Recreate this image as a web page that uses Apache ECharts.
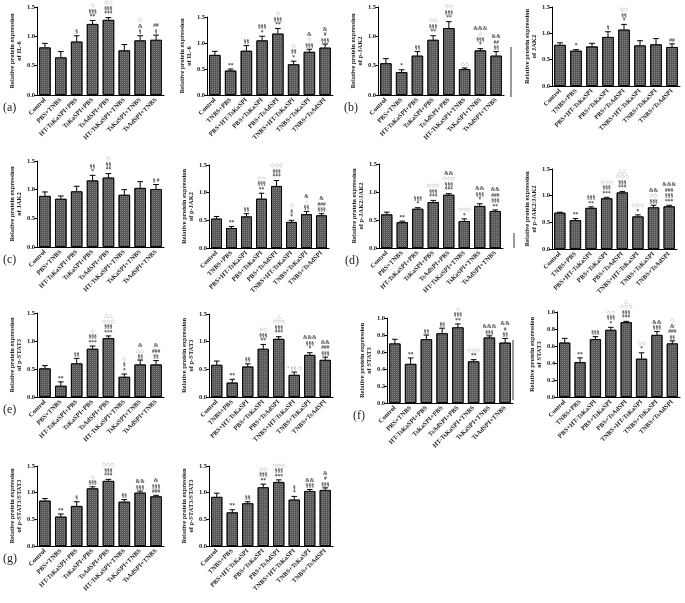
<!DOCTYPE html>
<html>
<head>
<meta charset="utf-8">
<script src="https://cdn.jsdelivr.net/npm/echarts@6/dist/echarts.min.js"></script>
<style>
html, body { margin: 0; padding: 0; background: #fff; }
#chart { width: 685px; height: 603px; }
</style>
</head>
<body>
<div id="chart"></div>
<script>
// group names (left panels / right panels)
const groupsL = ['Control', 'PBS+TNBS', 'HT-TsKaSPI+PBS', 'TsKaSPI+PBS', 'TsAdSPI+PBS', 'HT-TsKaSPI+TNBS', 'TsKaSPI+TNBS', 'TsAdSPI+TNBS'];
const groupsR = ['Control', 'TNBS+PBS', 'PBS+HT-TsKaSPI', 'PBS+TsKaSPI', 'PBS+TsAdSPI', 'TNBS+HT-TsKaSPI', 'TNBS+TsKaSPI', 'TNBS+TsAdSPI'];

const ticks15 = [0, 0.5, 1.0, 1.5];
const ticks10 = [0, 0.2, 0.4, 0.6, 0.8, 1.0];

// (a) IL-6
const il6A = [0.81, 0.64, 0.91, 1.21, 1.28, 0.76, 0.93, 0.94];
const il6AErr = [0.07, 0.10, 0.10, 0.06, 0.04, 0.10, 0.08, 0.08];
const il6AMarks = ['', '', '§', '◇\n§§§\n**', '◇◇\n§§§\n***', '', '◇\n&\n§', '##\n§'];
const il6B = [0.77, 0.47, 0.85, 1.05, 1.18, 0.59, 0.83, 0.91];
const il6BErr = [0.07, 0.03, 0.10, 0.08, 0.10, 0.06, 0.05, 0.07];
const il6BMarks = ['', '**', '§§', '§§§\n*', '◇\n§§§\n**', '◇\n§§\n*', '&\n◇\n§§§', '&\n#\n§§§'];

// (b) p-JAK2, JAK2
const pjak2A = [0.54, 0.39, 0.67, 0.94, 1.14, 0.44, 0.76, 0.67];
const pjak2AErr = [0.08, 0.04, 0.07, 0.07, 0.11, 0.02, 0.03, 0.07];
const pjak2AMarks = ['', '*', '§§', '◇◇\n§§§\n**', '◇◇\n§§§\n**', '◇◇', '&&&\n△\n§§§\n*', '&&\n##\n§§'];
const jak2B = [0.78, 0.67, 0.75, 0.93, 1.07, 0.77, 0.79, 0.74];
const jak2BErr = [0.04, 0.02, 0.06, 0.10, 0.10, 0.09, 0.11, 0.06];
const jak2BMarks = ['', '*', '', '§', '◇◇\n§§\n*', '', '', '##'];

// (c) JAK2, p-JAK2
const jak2C = [0.89, 0.84, 0.97, 1.16, 1.21, 0.91, 1.03, 1.01];
const jak2CErr = [0.07, 0.05, 0.09, 0.09, 0.07, 0.09, 0.11, 0.08];
const jak2CMarks = ['', '', '', '§§\n*', '◇\n§§\n**', '', '', '§ #'];
const pjak2C = [0.53, 0.36, 0.57, 0.89, 1.12, 0.47, 0.61, 0.59];
const pjak2CErr = [0.04, 0.03, 0.05, 0.10, 0.10, 0.03, 0.05, 0.03];
const pjak2CMarks = ['', '**', '§§', '◇◇\n§§§\n**', '◇◇◇\n§§§\n***', '◇\n§\n*', '&\n△\n§§', '&\n###\n§§§'];

// (d) p-JAK2/JAK2
const ratioJakA = [0.60, 0.46, 0.70, 0.82, 0.95, 0.48, 0.75, 0.66];
const ratioJakAErr = [0.04, 0.02, 0.02, 0.03, 0.02, 0.04, 0.04, 0.02];
const ratioJakAMarks = ['', '**', '§§§\n*', '◇◇◇\n§§§\n***', '&&\n◇◇◇\n§§§\n***', '◇◇◇\n*', '&&\n§§§\n*', '&&\n###\n§§§\n**'];
const ratioJakB = [0.68, 0.54, 0.77, 0.95, 1.06, 0.61, 0.78, 0.80];
const ratioJakBErr = [0.01, 0.03, 0.02, 0.02, 0.02, 0.03, 0.04, 0.02];
const ratioJakBMarks = ['', '**', '§§§\n**', '◇◇◇\n§§§\n***', '△△\n◇◇◇\n§§§\n***', '◇◇◇\n*', '&&\n◇◇\n§§§', '&&&\n###\n§§§\n***'];

// (e) p-STAT3
const pstatA = [0.51, 0.20, 0.60, 0.86, 1.05, 0.36, 0.58, 0.58];
const pstatAErr = [0.05, 0.07, 0.09, 0.05, 0.04, 0.05, 0.08, 0.07];
const pstatAMarks = ['', '**', '§§', '◇\n§§§\n***', '△△\n◇◇◇\n§§§\n***', '◇\n§\n*', '&\n△△\n§§', '&\n###\n§§'];
const pstatB = [0.58, 0.26, 0.55, 0.87, 1.05, 0.40, 0.76, 0.67];
const pstatBErr = [0.07, 0.06, 0.05, 0.08, 0.04, 0.05, 0.04, 0.05];
const pstatBMarks = ['', '**', '§§', '◇◇\n§§§\n**', '△\n◇◇◇\n§§§\n***', '* §§ ◇', '&&&\n§§§\n*', '&&\n###\n§§§'];

// (f) STAT3
const statA = [0.70, 0.46, 0.75, 0.82, 0.89, 0.49, 0.77, 0.71];
const statAErr = [0.05, 0.07, 0.05, 0.06, 0.04, 0.02, 0.02, 0.05];
const statAMarks = ['', '**', '§§', '§§', '◇\n§§§\n**', '◇◇◇\n**', '&&&\n§§§', '&&\n#\n§§'];
const statB = [0.64, 0.41, 0.68, 0.79, 0.88, 0.45, 0.73, 0.63];
const statBErr = [0.05, 0.05, 0.03, 0.03, 0.01, 0.07, 0.04, 0.03];
const statBMarks = ['', '**', '§§§', '◇◇\n§§§\n*', '△\n◇◇◇\n§§§\n***', '◇◇\n*', '&&\n§§§', '◇\n&\n###\n§§'];

// (g) p-STAT3/STAT3
const ratioStatA = [0.85, 0.55, 0.75, 1.08, 1.22, 0.83, 1.00, 0.93];
const ratioStatAErr = [0.04, 0.05, 0.08, 0.03, 0.03, 0.04, 0.03, 0.02];
const ratioStatAMarks = ['', '**', '§', '◇\n§§§', '◇◇◇\n§§§\n***', '§§', '&&\n§§§', '&\n§§§\n###'];
const ratioStatB = [0.92, 0.63, 0.80, 1.10, 1.20, 0.87, 1.03, 1.05];
const ratioStatBErr = [0.07, 0.05, 0.03, 0.06, 0.04, 0.06, 0.03, 0.04];
const ratioStatBMarks = ['', '**', '§§', '◇◇\n§§§\n**', '◇◇◇\n§§§\n***', '§\n*', '&&\n§§§', '&\n#\n§§§'];

// panel layout: grid [left, top, width, height]
const panels = [
  { tag: '(a)', cats: groupsL, vals: il6A, errs: il6AErr, marks: il6AMarks, name: 'IL-6', ticks: ticks15, grid: [37, 7, 127, 88] },
  { cats: groupsR, vals: il6B, errs: il6BErr, marks: il6BMarks, name: 'IL-6', ticks: ticks15, grid: [207, 17, 126, 78] },
  { tag: '(b)', cats: groupsL, vals: pjak2A, errs: pjak2AErr, marks: pjak2AMarks, name: 'p-JAK2', ticks: ticks15, grid: [378, 7, 126, 88] },
  { cats: groupsR, vals: jak2B, errs: jak2BErr, marks: jak2BMarks, name: 'JAK2', ticks: ticks15, grid: [552, 7, 128, 79] },
  { tag: '(c)', cats: groupsL, vals: jak2C, errs: jak2CErr, marks: jak2CMarks, name: 'JAK2', ticks: ticks15, grid: [37, 161, 127, 86] },
  { cats: groupsR, vals: pjak2C, errs: pjak2CErr, marks: pjak2CMarks, name: 'p-JAK2', ticks: ticks15, grid: [209, 165, 120, 83] },
  { tag: '(d)', cats: groupsL, vals: ratioJakA, errs: ratioJakAErr, marks: ratioJakAMarks, name: 'p-JAK2/JAK2', ticks: ticks15, grid: [379, 164, 124, 84] },
  { cats: groupsR, vals: ratioJakB, errs: ratioJakBErr, marks: ratioJakBMarks, name: 'p-JAK2/JAK2', ticks: ticks15, grid: [552, 169, 125, 80] },
  { tag: '(e)', cats: groupsL, vals: pstatA, errs: pstatAErr, marks: pstatAMarks, name: 'p-STAT3', ticks: ticks15, grid: [37, 313, 127, 84] },
  { cats: groupsR, vals: pstatB, errs: pstatBErr, marks: pstatBMarks, name: 'p-STAT3', ticks: ticks15, grid: [209, 314, 124, 83] },
  { tag: '(f)', cats: groupsL, vals: statA, errs: statAErr, marks: statAMarks, name: 'STAT3', ticks: ticks10, grid: [387, 318, 126, 85] },
  { cats: groupsR, vals: statB, errs: statBErr, marks: statBMarks, name: 'STAT3', ticks: ticks10, grid: [557, 312, 123, 85] },
  { tag: '(g)', cats: groupsL, vals: ratioStatA, errs: ratioStatAErr, marks: ratioStatAMarks, name: 'p-STAT3/STAT3', ticks: ticks15, grid: [37, 466, 127, 80] },
  { cats: groupsR, vals: ratioStatB, errs: ratioStatBErr, marks: ratioStatBMarks, name: 'p-STAT3/STAT3', ticks: ticks15, grid: [209, 466, 124, 80] }
];

const FONT = '"Liberation Serif", "DejaVu Serif", serif';
const ink = '#222';

// turn "◇\n§§§" into rich text, the open symbols in light grey
function richMarks(s) {
  if (!s) return '';
  return s.split('\n').map(l => /[◇△]/.test(l) ? '{l|' + l + '}' : '{d|' + l + '}').join('\n');
}

function errRender(params, api) {
  const i = api.value(0), v = api.value(1), e = api.value(2);
  const p0 = api.coord([i, v]);
  const p1 = api.coord([i, v + e]);
  const cap = api.size([1, 0])[0] * 0.36;
  const mark = panels[params.seriesIndex / 2 | 0].marks[i];
  const children = [
    { type: 'line', shape: { x1: p0[0], y1: p0[1], x2: p1[0], y2: p1[1] }, style: { stroke: '#000', lineWidth: 1 } },
    { type: 'line', shape: { x1: p1[0] - cap / 2, y1: p1[1], x2: p1[0] + cap / 2, y2: p1[1] }, style: { stroke: '#000', lineWidth: 1 } }
  ];
  if (mark) {
    children.push({
      type: 'text',
      x: p1[0], y: p1[1] - 1,
      style: {
        text: richMarks(mark),
        align: 'center', verticalAlign: 'bottom',
        fontFamily: FONT, fontSize: 5.5, lineHeight: 5.5,
        rich: {
          d: { fill: '#444', fontSize: 5.5, lineHeight: 5.5, fontFamily: FONT, fontWeight: 'bold' },
          l: { fill: '#aaa', fontSize: 5.5, lineHeight: 5.5, fontFamily: FONT }
        }
      }
    });
  }
  return { type: 'group', children: children };
}

const grid = [], xAxis = [], yAxis = [], series = [], graphic = [];
panels.forEach((p, k) => {
  const [l, t, w, h] = p.grid;
  const tk = p.ticks;
  grid.push({ left: l, top: t, width: w, height: h });
  xAxis.push({
    type: 'category', gridIndex: k, data: p.cats,
    axisLine: { lineStyle: { color: '#000', width: 1 } },
    axisTick: { alignWithLabel: true, length: 3, lineStyle: { color: '#000' } },
    axisLabel: { rotate: 45, margin: 4, fontSize: 6.5, fontWeight: 'bold', fontFamily: FONT, color: ink, interval: 0 }
  });
  yAxis.push({
    type: 'value', gridIndex: k, min: tk[0], max: tk[tk.length - 1], interval: tk[1] - tk[0],
    name: 'Relative protein expression\nof ' + p.name,
    nameLocation: 'middle', nameRotate: 90, nameGap: 13,
    nameTextStyle: { fontSize: 6.5, fontWeight: 'bold', fontFamily: FONT, color: ink, lineHeight: 7 },
    axisLine: { show: true, lineStyle: { color: '#000', width: 1 } },
    axisTick: { show: true, length: 3, lineStyle: { color: '#000' } },
    splitLine: { show: false },
    axisLabel: { margin: 2, fontSize: 6.5, fontWeight: 'bold', fontFamily: FONT, color: ink, formatter: v => v.toFixed(1) }
  });
  series.push({
    type: 'bar', xAxisIndex: k, yAxisIndex: k, data: p.vals, barWidth: '72%',
    itemStyle: {
      color: '#585858', borderColor: '#000', borderWidth: 0.8,
      decal: { symbol: 'rect', symbolSize: 1, color: 'rgba(255,255,255,0.25)', dashArrayX: [1, 1], dashArrayY: [1, 1], rotation: 0 }
    },
    animation: false, silent: true
  });
  series.push({
    type: 'custom', xAxisIndex: k, yAxisIndex: k, z: 5,
    data: p.vals.map((v, i) => [i, v, p.errs[i]]),
    renderItem: errRender, animation: false, silent: true
  });
  if (p.tag) {
    graphic.push({
      type: 'text', left: Math.max(3, l - 34), top: t + h + 7,
      style: { text: p.tag, fontSize: 12, fontFamily: FONT, fill: '#222' }
    });
  }
});

// stray frame edges visible at the right-hand column
[[511, 47, 97], [514, 233, 248], [513, 340, 400]].forEach(([x, y1, y2]) => {
  graphic.push({ type: 'line', shape: { x1: x, y1: y1, x2: x, y2: y2 }, style: { stroke: '#333', lineWidth: 1 } });
});

const chart = echarts.init(document.getElementById('chart'), null, { renderer: 'canvas' });
chart.setOption({ animation: false, grid, xAxis, yAxis, series, graphic });
</script>
</body>
</html>
